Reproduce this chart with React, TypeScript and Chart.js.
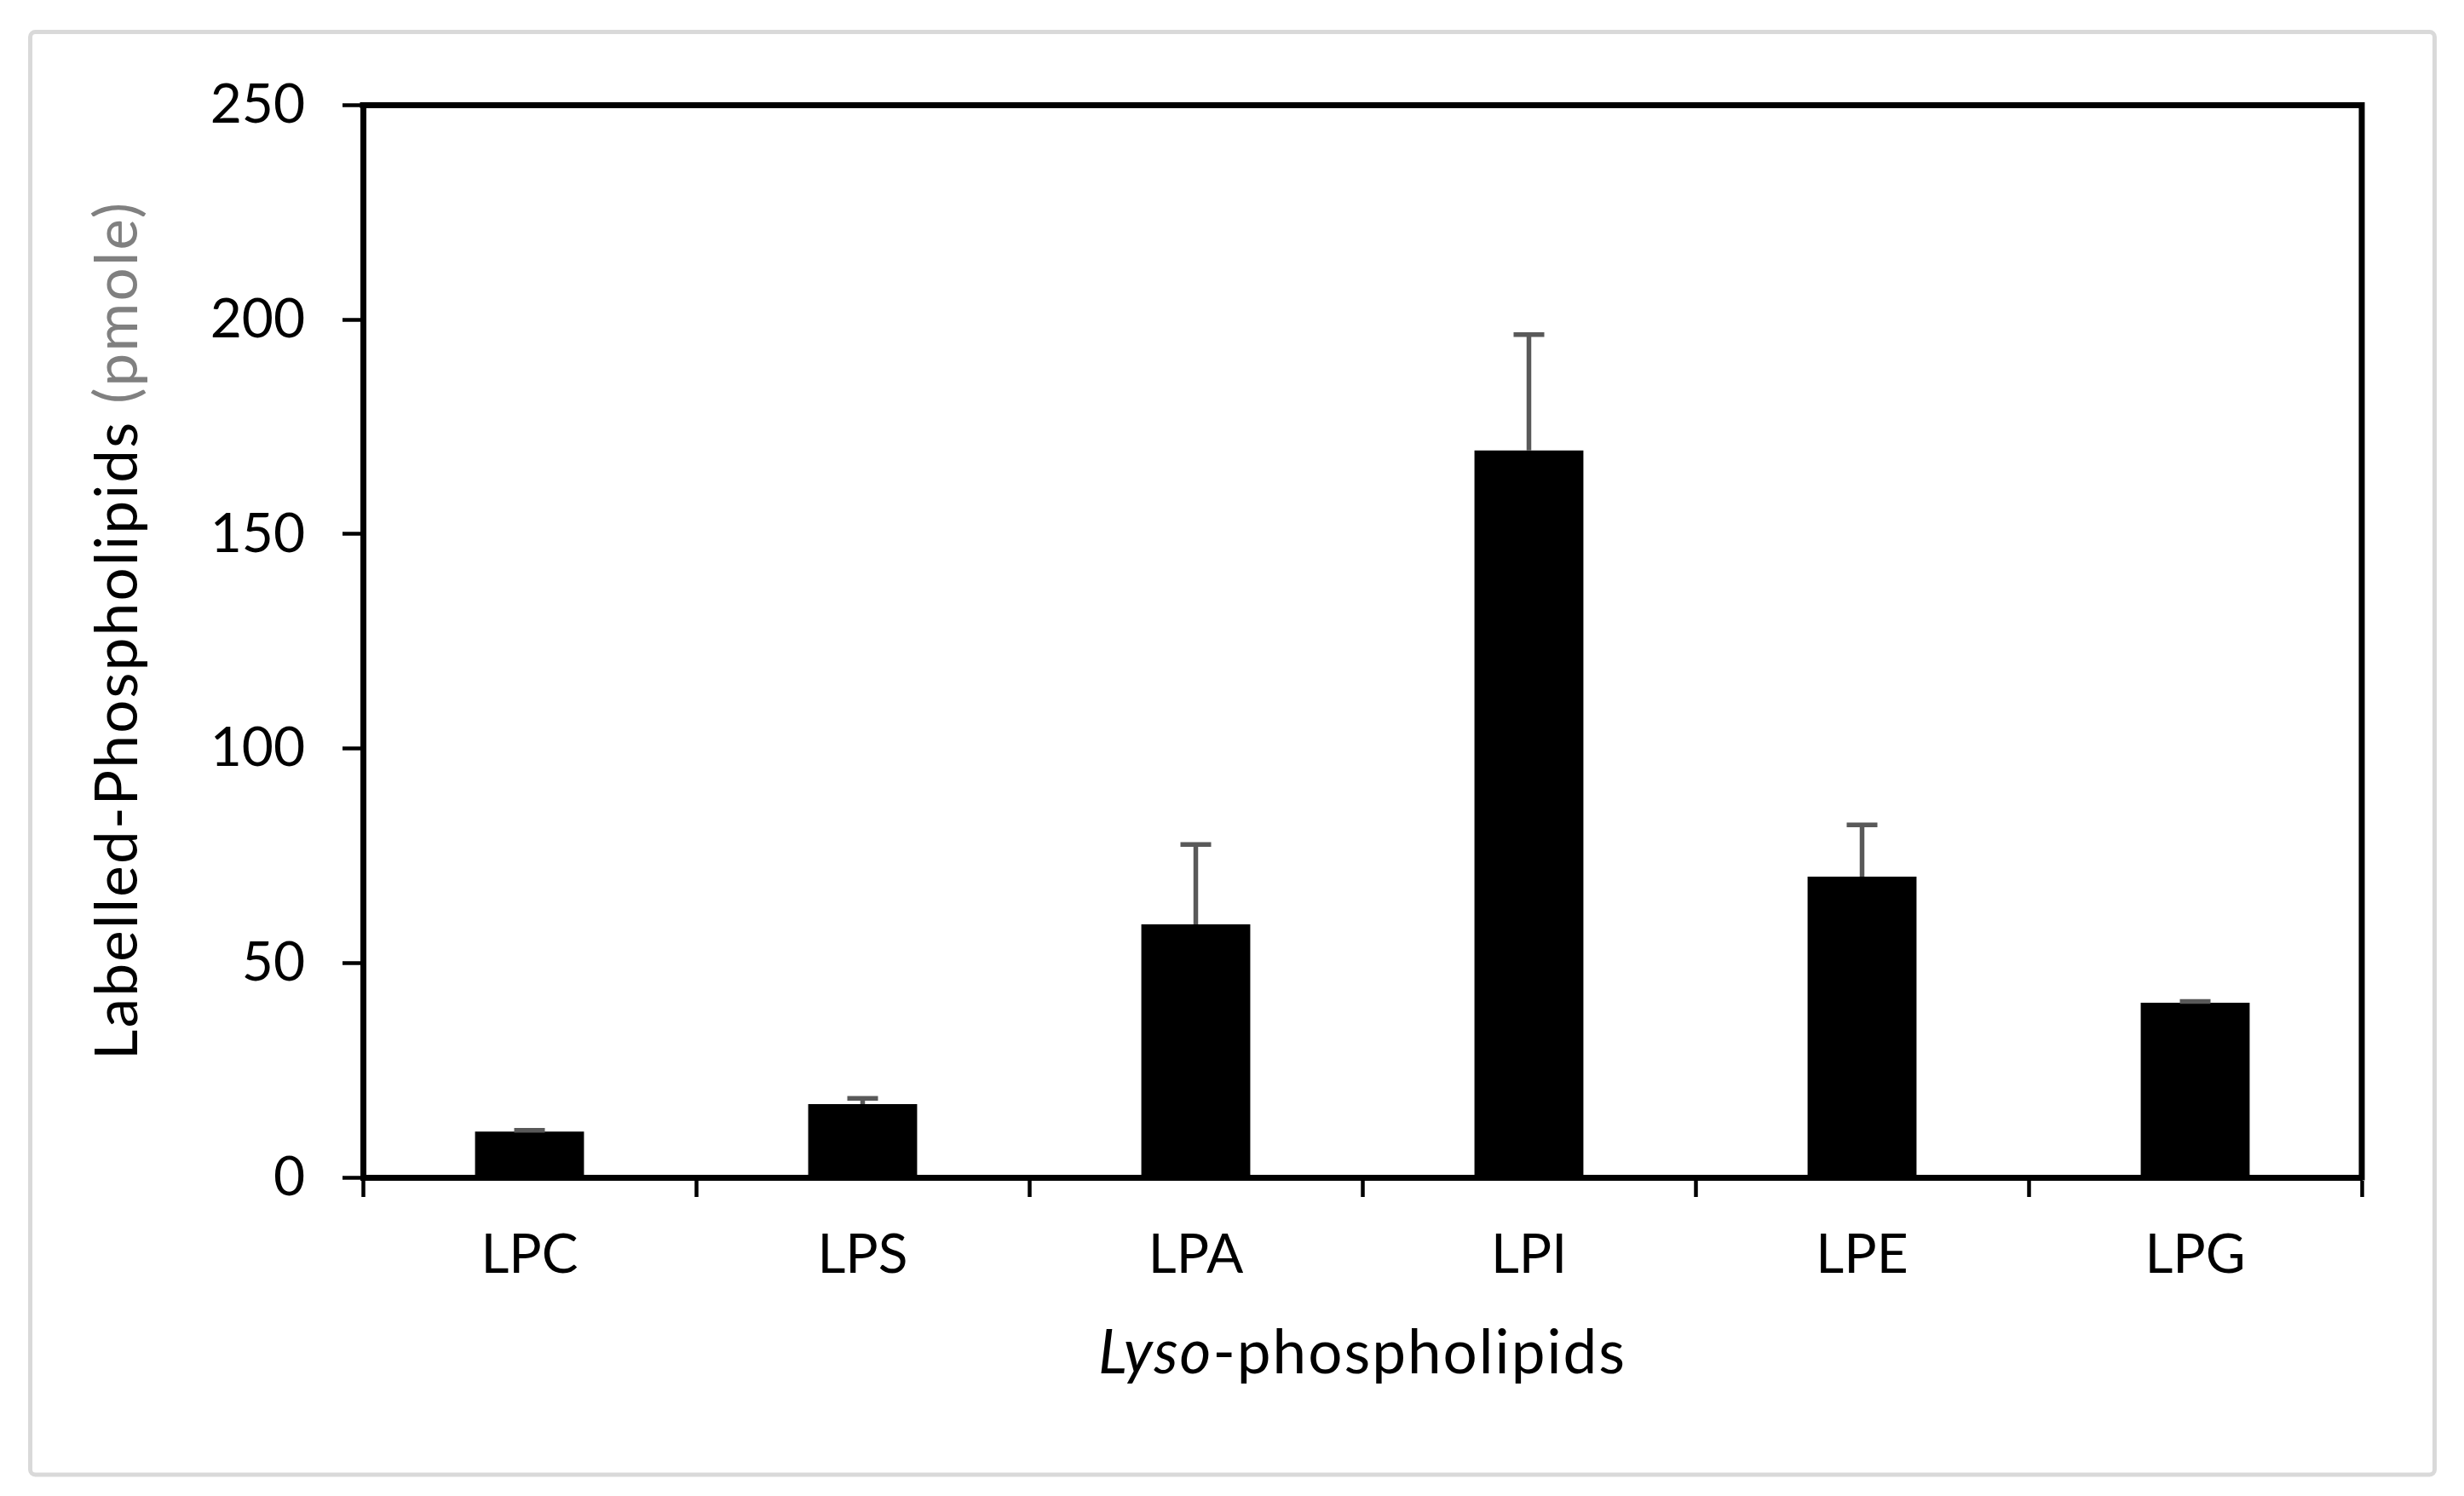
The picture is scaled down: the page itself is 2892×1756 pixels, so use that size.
import React, { useEffect, useRef } from 'react';
import { Chart, registerables } from 'chart.js';

Chart.register(...registerables);

const categories = ['LPC', 'LPS', 'LPA', 'LPI', 'LPE', 'LPG'];
const values = [10.7, 17.1, 59.0, 169.5, 70.1, 40.7];
const errors = [0.3, 1.3, 18.6, 27.0, 12.1, 0.3];
const yTicks = [0, 50, 100, 150, 200, 250];
const yTitleMain = 'Labelled-Phospholipids ';
const yTitleUnit = '(pmole)';
const xTitleItalic = 'Lyso';
const xTitleRest = '-phospholipids';

const FONT = 'Lato, "Open Sans", sans-serif';

const outerBorder = {
  id: 'outerBorder',
  beforeDraw(chart: any) {
    const ctx = chart.ctx;
    ctx.save();
    ctx.strokeStyle = '#d9d9d9';
    ctx.lineWidth = 5;
    ctx.beginPath();
    if (ctx.roundRect) ctx.roundRect(35.5, 37.5, 2822, 1693.5, 6);
    else ctx.rect(35.5, 37.5, 2822, 1693.5);
    ctx.stroke();
    ctx.restore();
  },
};

const frame = {
  id: 'frame',
  afterDatasetsDraw(chart: any) {
    const { left, right, top, bottom } = chart.chartArea;
    const ctx = chart.ctx;
    ctx.save();
    ctx.strokeStyle = '#000';
    ctx.lineWidth = 7;
    ctx.lineJoin = 'miter';
    ctx.lineCap = 'square';
    ctx.beginPath();
    ctx.moveTo(left, top);
    ctx.lineTo(right, top);
    ctx.lineTo(right, bottom);
    ctx.stroke();
    ctx.restore();
  },
};

const errorBars = {
  id: 'errorBars',
  afterDatasetsDraw(chart: any) {
    const meta = chart.getDatasetMeta(0);
    const ys = chart.scales.y;
    const ctx = chart.ctx;
    ctx.save();
    ctx.strokeStyle = '#595959';
    ctx.lineWidth = 5.5;
    meta.data.forEach((bar: any, i: number) => {
      const x = bar.x;
      const y0 = ys.getPixelForValue(values[i]);
      const y1 = ys.getPixelForValue(values[i] + errors[i]);
      ctx.beginPath();
      ctx.moveTo(x, y0);
      ctx.lineTo(x, y1);
      ctx.moveTo(x - 18, y1);
      ctx.lineTo(x + 18, y1);
      ctx.stroke();
    });
    ctx.restore();
  },
};

const titles = {
  id: 'titles',
  afterDraw(chart: any) {
    const ctx = chart.ctx;
    const { left, right, top, bottom } = chart.chartArea;
    ctx.save();
    ctx.textAlign = 'left';
    ctx.textBaseline = 'alphabetic';
    // x-axis title
    const italic = `italic 71px ${FONT}`;
    const normal = `71px ${FONT}`;
    ctx.letterSpacing = '2px';
    ctx.font = italic;
    const w1 = ctx.measureText(xTitleItalic).width;
    ctx.font = normal;
    const w2 = ctx.measureText(xTitleRest).width;
    const cx = (left + right) / 2;
    const x0 = cx - (w1 + w2) / 2;
    const baseY = bottom + 230;
    ctx.fillStyle = '#000';
    ctx.font = italic;
    ctx.fillText(xTitleItalic, x0, baseY);
    ctx.font = normal;
    ctx.fillText(xTitleRest, x0 + w1, baseY);

    // y-axis title (rotated)
    ctx.letterSpacing = '2.3px';
    const yFont = `69px ${FONT}`;
    ctx.font = yFont;
    const m1 = ctx.measureText(yTitleMain).width;
    const m2 = ctx.measureText(yTitleUnit).width;
    const cy = (top + bottom) / 2 - 13;
    ctx.translate(left - 265, cy);
    ctx.rotate(-Math.PI / 2);
    const s = -(m1 + m2) / 2;
    ctx.fillStyle = '#000';
    ctx.fillText(yTitleMain, s, 0);
    ctx.fillStyle = '#808080';
    ctx.fillText(yTitleUnit, s + m1, 0);
    ctx.restore();
  },
};

export default function App() {
  const ref = useRef<HTMLCanvasElement | null>(null);

  useEffect(() => {
    if (!ref.current) return;
    const chart = new Chart(ref.current, {
      type: 'bar',
      data: {
        labels: categories,
        datasets: [
          {
            data: values,
            backgroundColor: '#000',
            borderWidth: 0,
            categoryPercentage: 1,
            barPercentage: 0.327,
          },
        ],
      },
      options: {
        animation: false,
        responsive: false,
        maintainAspectRatio: false,
        devicePixelRatio: 1,
        layout: { padding: { left: 0, top: 123.5, right: 120, bottom: 0 } },
        plugins: {
          legend: { display: false },
          tooltip: { enabled: false },
          title: { display: false },
        },
        scales: {
          x: {
            type: 'category',
            afterFit: (s: any) => {
              s.height = 374;
            },
            border: { display: true, color: '#000', width: 7 },
            grid: {
              display: true,
              offset: true,
              drawOnChartArea: false,
              drawTicks: true,
              tickLength: 23,
              tickWidth: 4.5,
              tickColor: '#000',
            },
            ticks: {
              color: '#000',
              font: { family: FONT, size: 64 },
              padding: 30,
              maxRotation: 0,
              autoSkip: false,
            },
          },
          y: {
            type: 'linear',
            min: 0,
            max: 250,
            afterFit: (s: any) => {
              s.width = 426;
            },
            afterBuildTicks: (s: any) => {
              s.ticks = yTicks.map((v) => ({ value: v }));
            },
            border: { display: true, color: '#000', width: 7 },
            grid: {
              display: true,
              drawOnChartArea: false,
              drawTicks: true,
              tickLength: 24,
              tickWidth: 4.5,
              tickColor: '#000',
            },
            ticks: {
              color: '#000',
              font: { family: FONT, size: 64 },
              padding: 44,
            },
          },
        },
      },
      plugins: [outerBorder, frame, errorBars, titles],
    });
    return () => chart.destroy();
  }, []);

  return (
    <div style={{ position: 'absolute', left: 0, top: 0, width: 2892, height: 1756, background: '#fff' }}>
      <canvas ref={ref} width={2892} height={1756} style={{ width: 2892, height: 1756, display: 'block' }} />
    </div>
  );
}
